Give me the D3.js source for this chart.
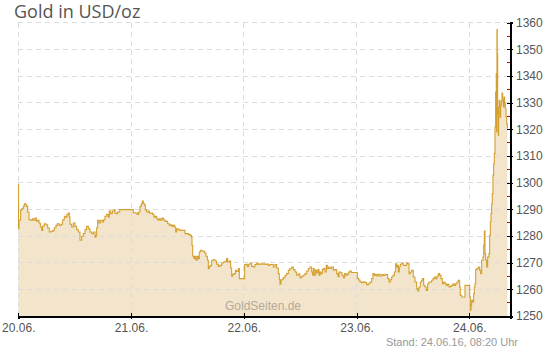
<!DOCTYPE html>
<html>
<head>
<meta charset="utf-8">
<script src="https://cdn.jsdelivr.net/npm/d3@7"></script>
<style>
    body { margin: 0; background: #fff; }
    svg text { font-family: "Liberation Sans", Arial, sans-serif; }
</style>
</head>
<body>
<svg id="chart" width="550" height="350"></svg>
<script>
// hours since 20.06.16 00:00
const hours = [
    0.0, 0.05, 0.15, 0.5, 0.72, 1.07, 1.28, 1.57, 1.78, 1.99, 2.28, 2.7, 2.99, 3.27, 3.55, 3.84, 4.12, 4.41, 4.69, 4.97,
    5.19, 5.54, 5.9, 6.25, 6.6, 6.96, 7.39, 7.67, 8.02, 8.31, 8.73, 9.09, 9.44, 9.8, 10.08, 10.37, 10.65, 10.86, 11.0, 11.36,
    11.71, 12.07, 12.42, 12.78, 13.13, 13.49, 13.84, 14.2, 14.55, 14.91, 15.26, 15.62, 15.97, 16.33, 16.54, 16.68, 16.89, 17.18, 17.46, 17.89,
    18.17, 18.45, 18.81, 19.16, 19.37, 19.66, 20.01, 20.37, 20.58, 20.87, 21.15, 21.58, 22.71, 23.99,
    24.49, 25.05, 25.34, 25.62, 25.9, 26.19, 26.4, 26.61, 26.9, 27.04, 27.32, 27.68, 27.89, 28.25, 28.6, 28.88, 29.17, 29.45, 29.74, 30.02,
    30.3, 30.59, 30.87, 31.16, 31.44, 31.79, 32.15, 32.43, 32.72, 33.0, 33.28, 33.5, 33.71, 34.06, 34.42, 34.77, 35.13, 35.48, 35.84, 36.19,
    36.55, 36.83, 36.97, 37.12, 37.4, 37.61, 37.83, 38.11, 38.32, 38.53, 38.75, 39.03, 39.39, 39.67, 39.95, 40.24, 40.45, 40.66, 40.95, 41.16,
    41.51, 41.87, 42.22, 42.58, 42.93, 43.29, 43.64, 44.0, 44.35, 44.57, 44.92, 45.2, 45.42, 45.63, 45.91, 46.2, 46.48, 46.84, 47.05, 47.55,
    47.9, 48.18, 48.47, 48.75, 49.04, 49.32,
    49.67, 50.03, 50.38, 50.74, 51.09, 51.45, 51.8, 52.16, 52.51, 52.87, 53.22, 53.58, 53.93, 54.29, 54.64, 55.0, 55.35, 55.56, 55.7, 55.92,
    56.2, 56.41, 56.77, 57.12, 57.48, 57.83, 58.19, 58.54, 58.9, 59.25, 59.61, 59.96, 60.32, 60.67, 61.03, 61.38, 61.74, 62.09, 62.45, 62.66,
    62.8, 63.01, 63.3, 63.51, 63.79, 64.01, 64.22, 64.43, 64.72, 64.93, 65.28, 65.57, 65.78, 66.06, 66.35, 66.7, 67.06, 67.41, 67.77, 68.05,
    68.26, 68.62, 68.9, 69.19, 69.47, 69.75, 70.04, 70.32, 70.61, 70.89, 71.31, 71.88, 72.17, 72.45, 72.73, 73.09, 73.44,
    73.8, 74.15, 74.51, 74.86, 75.22, 75.5, 75.78, 76.07, 76.35, 76.64, 76.99, 77.35, 77.7, 78.06, 78.41, 78.62, 78.91, 79.19, 79.47, 79.76,
    80.04, 80.33, 80.54, 80.75, 80.89, 81.11, 81.32, 81.6, 81.96, 82.31, 82.67, 82.88, 83.16, 83.45, 83.73, 84.08, 84.44, 84.8, 85.01, 85.29,
    85.58, 85.86, 86.07, 86.29, 86.57, 86.85, 87.14, 87.42, 87.7, 87.99, 88.27, 88.56, 88.84, 89.12, 89.41, 89.69, 89.97, 90.26, 90.54, 90.83,
    91.11, 91.39, 91.68, 91.96, 92.25, 92.53, 92.81, 93.1, 93.38, 93.66, 93.95, 94.09, 94.37, 94.66, 94.94, 95.08, 95.51, 95.93, 96.08, 96.22,
    96.36, 96.5, 96.72, 96.93, 97.07, 97.21, 97.36, 97.64, 97.92, 98.21, 98.42, 98.63, 98.92, 99.06, 99.2, 99.34, 99.48, 99.7, 99.91, 100.19,
    100.33, 100.48, 100.62, 100.76, 100.9, 101.04, 101.18, 101.33, 101.47, 101.61, 101.75, 101.82, 101.89, 101.96, 102.04, 102.18, 102.25, 102.39, 102.53, 102.68,
    102.82, 102.96, 103.1, 103.25, 103.39, 103.53, 103.67, 103.82, 103.96, 104.1
];

// gold price in USD/oz
const prices = [
    1299.5, 1282.7, 1285.9, 1289.6, 1290.25, 1291.1, 1292.1, 1291.75, 1291.1, 1289.0, 1286.1, 1285.9, 1286.5, 1285.9, 1286.75, 1285.6, 1285.9, 1284.9, 1283.4, 1282.1,
    1283.75, 1284.6, 1284.25, 1283.0, 1281.5, 1281.75, 1282.1, 1283.1, 1284.0, 1284.6, 1284.0, 1284.4, 1286.1, 1287.4, 1287.1, 1288.1, 1288.6, 1287.1, 1284.4, 1283.4,
    1284.9, 1283.6, 1282.4, 1281.5, 1278.4, 1279.9, 1280.9, 1282.4, 1283.6, 1282.75, 1281.5, 1280.9, 1281.5, 1279.6, 1280.25, 1283.1, 1285.9, 1284.9, 1285.9, 1285.25,
    1286.1, 1287.4, 1288.1, 1287.1, 1289.4, 1288.4, 1289.4, 1289.9, 1288.6, 1288.4, 1289.0, 1289.9, 1289.9, 1289.9,
    1288.75, 1288.6, 1288.1, 1289.0, 1291.1, 1292.1, 1293.1, 1292.1, 1291.5, 1289.9, 1289.0, 1289.4, 1288.6, 1288.6, 1288.1, 1287.1, 1287.4, 1286.5, 1285.9, 1286.5,
    1285.9, 1286.75, 1286.1, 1285.6, 1285.5, 1284.6, 1284.0, 1284.25, 1283.6, 1284.0, 1283.4, 1281.5, 1282.75, 1282.4, 1282.1, 1282.1, 1282.1, 1280.9, 1280.9, 1280.6,
    1280.25, 1279.6, 1276.5, 1272.4, 1271.5, 1272.4, 1270.9, 1272.4, 1271.5, 1274.0, 1274.6, 1274.4, 1274.25, 1273.6, 1272.4, 1270.9, 1267.75, 1268.6, 1269.0, 1270.9,
    1271.1, 1270.6, 1269.4, 1268.6, 1269.0, 1269.9, 1270.25, 1270.5, 1271.5, 1270.25, 1270.6, 1268.0, 1264.9, 1265.6, 1265.9, 1267.1, 1266.75, 1267.75, 1264.0, 1264.0,
    1264.0, 1269.25, 1269.4, 1268.6, 1269.4, 1269.9,
    1268.6, 1268.4, 1269.3, 1269.9, 1269.3, 1269.6, 1269.4, 1269.6, 1269.3, 1269.5, 1269.0, 1269.3, 1269.3, 1268.4, 1269.3, 1268.0, 1265.9, 1263.7, 1261.9, 1263.5,
    1263.8, 1264.4, 1265.3, 1265.9, 1267.2, 1267.8, 1268.4, 1267.4, 1266.5, 1265.3, 1265.7, 1264.4, 1264.9, 1265.3, 1265.9, 1266.9, 1267.8, 1268.4, 1266.5, 1265.3,
    1267.8, 1265.3, 1267.2, 1266.2, 1267.4, 1265.3, 1266.5, 1265.9, 1267.4, 1267.8, 1266.5, 1269.0, 1267.8, 1268.4, 1267.8, 1268.4, 1267.2, 1267.4, 1265.9, 1264.7,
    1266.5, 1266.2, 1265.3, 1264.4, 1265.9, 1265.3, 1265.7, 1266.5, 1266.9, 1266.3, 1266.3, 1266.3, 1264.1, 1263.5, 1262.8, 1262.5, 1262.8,
    1262.5, 1261.75, 1262.1, 1262.75, 1264.0, 1265.9, 1265.25, 1265.6, 1265.0, 1265.6, 1265.0, 1265.5, 1265.25, 1265.6, 1265.5, 1264.0, 1262.75, 1263.6, 1264.6, 1265.25,
    1266.5, 1269.6, 1268.4, 1269.0, 1266.5, 1268.4, 1269.4, 1269.9, 1269.0, 1269.0, 1269.9, 1269.6, 1265.9, 1266.5, 1267.1, 1264.6, 1262.75, 1260.25, 1259.4, 1260.9,
    1262.75, 1263.4, 1264.0, 1261.5, 1260.9, 1259.6, 1262.1, 1262.75, 1262.75, 1263.4, 1264.0, 1264.6, 1264.0, 1264.9, 1265.9, 1265.25, 1264.0, 1262.1, 1262.75, 1262.1,
    1261.5, 1261.9, 1260.9, 1261.1, 1261.5, 1262.1, 1261.5, 1262.1, 1262.75, 1263.4, 1260.9, 1257.75, 1257.1, 1257.1, 1257.1, 1261.5, 1261.5, 1261.5, 1257.1, 1252.1,
    1254.0, 1255.9, 1255.25, 1258.4, 1260.9, 1262.1, 1267.4, 1267.75, 1268.4, 1267.1, 1265.9, 1270.9, 1272.1, 1276.5, 1281.9, 1273.4, 1270.9, 1268.4, 1272.1, 1273.4,
    1280.25, 1285.25, 1288.4, 1292.1, 1295.9, 1302.75, 1307.1, 1310.9, 1320.9, 1334.0, 1340.9, 1319.0, 1357.4, 1348.4, 1325.9, 1317.75, 1328.4, 1330.9, 1324.6, 1329.0,
    1330.25, 1333.6, 1330.9, 1328.4, 1332.1, 1329.6, 1327.75, 1324.6, 1322.1, 1320.25
];

const dayLabels = ["20.06.", "21.06.", "22.06.", "23.06.", "24.06."];
const priceTicks = [1250, 1260, 1270, 1280, 1290, 1300, 1310, 1320, 1330, 1340, 1350, 1360];
const titleText = "Gold in USD/oz";
const standText = "Stand: 24.06.16, 08:20 Uhr";
const watermarkText = "GoldSeiten.de";


class GoldChart {

    constructor() {
        this.start = new Date(2016, 5, 20, 0, 0);
        this.end = new Date(2016, 5, 24, 8, 40);

        this.plot = {
            left: 18.3,
            right: 510,
            top: 22.7,
            bottom: 316
        };

        this.lineColor = "#d4a030";
    }

    /**
     * Pair the hour offsets with the prices.
     */
    processData() {
        let data = [];
        for (let i = 0; i < hours.length; i++) {
            data.push({
                date: new Date(this.start.getTime() + hours[i] * 3600 * 1000),
                price: prices[i]
            });
        }
        return data;
    }

    draw() {
        let data = this.processData();
        let svg = d3.select("#chart");
        let p = this.plot;

        let xScale = d3.scaleTime()
            .domain([this.start, this.end])
            .range([p.left, p.right]);

        let yScale = d3.scaleLinear()
            .domain([d3.min(priceTicks), d3.max(priceTicks)])
            .range([p.bottom, p.top]);

        let days = dayLabels.map((d, i) => d3.timeDay.offset(this.start, i));

        // title
        svg.append("text")
            .attr("x", 14)
            .attr("y", 18)
            .attr("fill", "#555")
            .style("font-family", "'Open Sans', sans-serif")
            .style("font-size", "18px")
            .text(titleText);

        // area under the line
        svg.append("path")
            .datum(data)
            .attr("fill", "#e2c286")
            .attr("fill-opacity", 0.42)
            .attr("d", d3.area()
                .curve(d3.curveStepAfter)
                .x(d => xScale(d.date))
                .y0(yScale(1250))
                .y1(d => yScale(d.price)));

        // dashed grid
        let grid = svg.append("g")
            .attr("stroke", "#dcdcdc")
            .attr("stroke-dasharray", "5,4")
            .attr("shape-rendering", "crispEdges");

        grid.selectAll(".hgrid")
            .data(priceTicks.slice(1))
            .enter().append("line")
            .attr("class", "hgrid")
            .attr("x1", p.left)
            .attr("x2", p.right)
            .attr("y1", d => yScale(d))
            .attr("y2", d => yScale(d));

        grid.selectAll(".vgrid")
            .data(days)
            .enter().append("line")
            .attr("class", "vgrid")
            .attr("x1", d => xScale(d))
            .attr("x2", d => xScale(d))
            .attr("y1", yScale(1360))
            .attr("y2", yScale(1250));

        // price line
        svg.append("path")
            .datum(data)
            .attr("fill", "none")
            .attr("stroke", this.lineColor)
            .attr("stroke-width", 1.1)
            .attr("d", d3.line()
                .curve(d3.curveStepAfter)
                .x(d => xScale(d.date))
                .y(d => yScale(d.price)));

        // watermark
        svg.append("text")
            .attr("x", 263)
            .attr("y", 310)
            .attr("text-anchor", "middle")
            .attr("fill", "#b3aa9a")
            .style("font-size", "12px")
            .text(watermarkText);

        // bottom axis
        let xAxis = d3.axisBottom(xScale)
            .tickValues(days)
            .tickFormat((d, i) => dayLabels[i])
            .tickSizeOuter(0)
            .tickSize(3)
            .tickPadding(4);

        let xAxisGroup = svg.append("g")
            .attr("transform", "translate(0," + p.bottom + ")")
            .call(xAxis);
        xAxisGroup.select(".domain")
            .attr("stroke", "#000")
            .attr("stroke-width", 2)
            .attr("shape-rendering", "crispEdges");
        xAxisGroup.selectAll(".tick line")
            .attr("y1", -3)
            .attr("stroke", "#000")
            .attr("shape-rendering", "crispEdges");
        xAxisGroup.selectAll(".tick text")
            .attr("fill", "#555")
            .style("font-family", "'Liberation Sans', Arial, sans-serif")
            .style("font-size", "12px");

        // minor red ticks between the price ticks
        let minor = d3.pairs(priceTicks).map(d => (d[0] + d[1]) / 2);
        svg.selectAll(".minor")
            .data(minor)
            .enter().append("line")
            .attr("class", "minor")
            .attr("x1", p.right - 3)
            .attr("x2", p.right)
            .attr("y1", d => yScale(d))
            .attr("y2", d => yScale(d))
            .attr("stroke", "#e00000")
            .attr("shape-rendering", "crispEdges");

        // right axis
        let yAxis = d3.axisRight(yScale)
            .tickValues(priceTicks)
            .tickFormat(d3.format("d"))
            .tickSizeOuter(0)
            .tickSize(3)
            .tickPadding(3);

        let yAxisGroup = svg.append("g")
            .attr("transform", "translate(" + p.right + ",0)")
            .call(yAxis);
        yAxisGroup.select(".domain")
            .attr("stroke", "#000")
            .attr("stroke-width", 2)
            .attr("shape-rendering", "crispEdges");
        yAxisGroup.selectAll(".tick line")
            .attr("x1", -3)
            .attr("stroke", "#000")
            .attr("shape-rendering", "crispEdges");
        yAxisGroup.selectAll(".tick text")
            .attr("fill", "#555")
            .style("font-family", "'Liberation Sans', Arial, sans-serif")
            .style("font-size", "12px");

        // footnote
        svg.append("text")
            .attr("x", 518)
            .attr("y", 346)
            .attr("text-anchor", "end")
            .attr("fill", "#999")
            .style("font-size", "11px")
            .text(standText);
    }
}

let chart = new GoldChart();
chart.draw();
</script>
</body>
</html>
